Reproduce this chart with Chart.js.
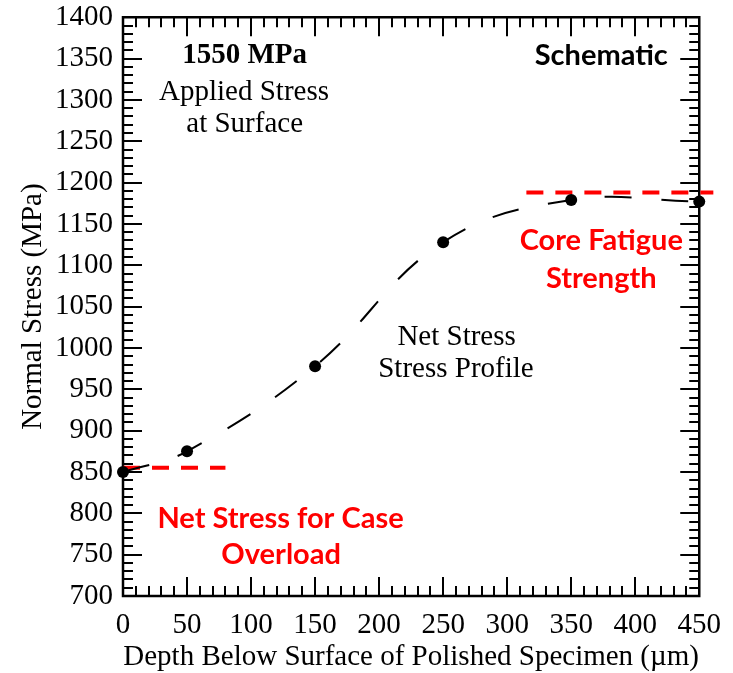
<!DOCTYPE html>
<html>
<head>
<meta charset="utf-8">
<script src="https://cdn.jsdelivr.net/npm/chart.js@4.4.1/dist/chart.umd.min.js"></script>
<style>
  body { margin: 0; background: #fff; }
  canvas { display: block; }
</style>
</head>
<body>
<canvas id="grafico" width="733" height="673"></canvas>
<script>
// Valores
const profundidade = [0, 50, 150, 250, 350, 450];
const tensaoLiquida = [850, 875, 978, 1128, 1179, 1177];

// Linhas tracejadas vermelhas (limites)
const sobrecargaX = [0, 80];
const sobrecargaY = [855, 855];
const fadigaNucleoX = [315, 461];
const fadigaNucleoY = [1188, 1188];

// Textos do gráfico (posição em coordenadas de dados)
const serif = "'Liberation Serif', 'Times New Roman', serif";
const sans = "Lato, 'Open Sans', sans-serif";
const textos = [
  { t: "1550 MPa", x: 95, y: 1354, font: "bold 29px " + serif, cor: "#000" },
  { t: "Applied Stress", x: 94.5, y: 1309, font: "29px " + serif, cor: "#000" },
  { t: "at Surface", x: 95, y: 1270, font: "29px " + serif, cor: "#000" },
  { t: "Net Stress", x: 260.5, y: 1013, font: "29px " + serif, cor: "#000" },
  { t: "Stress Profile", x: 260, y: 974, font: "29px " + serif, cor: "#000" },
  { t: "Net Stress for Case", x: 123, y: 794, font: "bold 29px " + sans, cor: "#ff0000" },
  { t: "Overload", x: 123.5, y: 749.5, font: "bold 29px " + sans, cor: "#ff0000" },
  { t: "Schematic", x: 373.5, y: 1354, font: "bold 29px " + sans, cor: "#000" },
  { t: "Core Fatigue", x: 373.5, y: 1130, font: "bold 29px " + sans, cor: "#ff0000" },
  { t: "Strength", x: 373.5, y: 1084, font: "bold 29px " + sans, cor: "#ff0000" }
];

function pontos(xs, ys) {
  return xs.map((x, i) => ({ x: x, y: ys[i] }));
}

// Moldura e marcas de escala para dentro nos quatro lados
const molduraPlugin = {
  id: "moldura",
  beforeDatasetsDraw(chart) {
    const { ctx, chartArea: a, scales: { x, y } } = chart;
    ctx.save();
    ctx.strokeStyle = "#000";
    ctx.lineWidth = 2;
    ctx.beginPath();
    for (let v = 0; v <= 450; v += 10) {
      const px = Math.round(x.getPixelForValue(v));
      const len = v % 50 === 0 ? 19 : 10;
      ctx.moveTo(px, a.bottom); ctx.lineTo(px, a.bottom - len);
      ctx.moveTo(px, a.top); ctx.lineTo(px, a.top + len);
    }
    for (let v = 700; v <= 1400; v += 10) {
      const py = Math.round(y.getPixelForValue(v));
      const len = v % 50 === 0 ? 19 : 10;
      ctx.moveTo(a.left, py); ctx.lineTo(a.left + len, py);
      ctx.moveTo(a.right, py); ctx.lineTo(a.right - len, py);
    }
    ctx.stroke();
    ctx.lineWidth = 2.5;
    ctx.strokeRect(a.left, a.top, a.right - a.left, a.bottom - a.top);
    ctx.restore();
  },
  afterDraw(chart) {
    const { ctx, scales: { x, y } } = chart;
    ctx.save();
    ctx.textAlign = "center";
    ctx.textBaseline = "middle";
    textos.forEach(item => {
      ctx.font = item.font;
      ctx.fillStyle = item.cor;
      ctx.fillText(item.t, x.getPixelForValue(item.x), y.getPixelForValue(item.y));
    });
    ctx.restore();
  }
};

new Chart(document.getElementById("grafico"), {
  type: "line",
  data: {
    datasets: [
      {
        data: pontos(profundidade, tensaoLiquida),
        borderColor: "#000",
        borderWidth: 2,
        borderDash: [27, 30],
        tension: 0.4,
        pointRadius: 6,
        pointBackgroundColor: "#000",
        pointBorderWidth: 0,
        clip: false,
        order: 0
      },
      {
        data: pontos(sobrecargaX, sobrecargaY),
        borderColor: "#ff0000",
        borderWidth: 4,
        borderDash: [17, 12],
        pointRadius: 0,
        clip: false,
        order: 1
      },
      {
        data: pontos(fadigaNucleoX, fadigaNucleoY),
        borderColor: "#ff0000",
        borderWidth: 4,
        borderDash: [17, 12],
        pointRadius: 0,
        clip: false,
        order: 1
      }
    ]
  },
  options: {
    responsive: false,
    animation: false,
    layout: { padding: { top: 17, right: 33, left: 0, bottom: 0 } },
    plugins: {
      legend: { display: false },
      tooltip: { enabled: false }
    },
    scales: {
      x: {
        type: "linear",
        min: 0,
        max: 450,
        grid: { display: false, drawTicks: false },
        border: { display: false },
        ticks: {
          stepSize: 50,
          color: "#000",
          padding: 12,
          maxRotation: 0,
          font: { family: serif, size: 29 }
        },
        title: {
          display: true,
          text: "Depth Below Surface of Polished Specimen (\u00b5m)",
          color: "#000",
          padding: { top: 0, bottom: 0 },
          font: { family: serif, size: 29, lineHeight: 1.1 }
        },
        afterFit: scale => { scale.height = 77; }
      },
      y: {
        min: 700,
        max: 1400,
        grid: { display: false, drawTicks: false },
        border: { display: false },
        ticks: {
          stepSize: 50,
          color: "#000",
          padding: 10,
          callback: v => String(v),
          font: { family: serif, size: 29, lineHeight: 0.5 }
        },
        title: {
          display: true,
          text: "Normal Stress (MPa)",
          color: "#000",
          padding: { top: 17, bottom: 0 },
          font: { family: serif, size: 29, lineHeight: 1.1 }
        },
        afterFit: scale => { scale.width = 123; }
      }
    }
  },
  plugins: [molduraPlugin]
});
</script>
</body>
</html>
